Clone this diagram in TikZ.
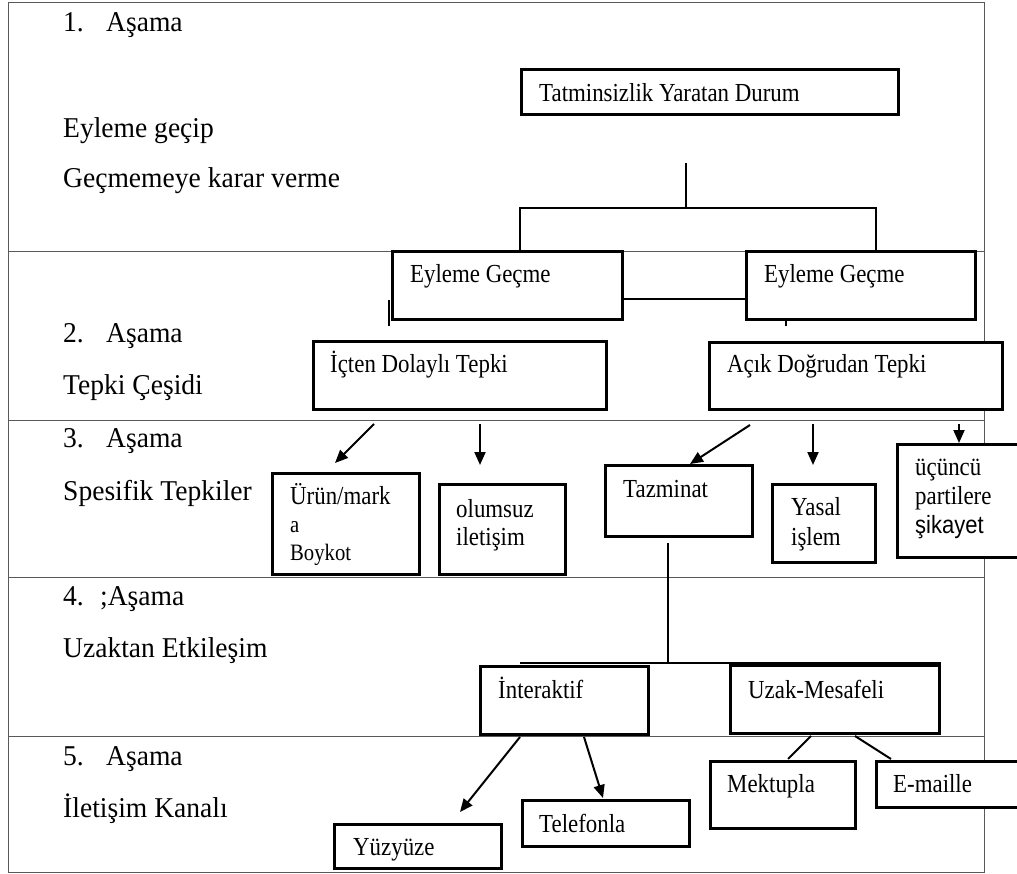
\documentclass[tikz,border=0pt]{standalone}
\usepackage{fontspec}
\setmainfont{Liberation Serif}
\newfontfamily\asamafont[FakeStretch=0.96]{Liberation Serif}
\newfontfamily\kutufont[FakeStretch=0.88]{Liberation Serif}
\newfontfamily\kutusans[FakeStretch=0.88]{Liberation Sans}
\usetikzlibrary{arrows.meta,positioning}

\def\frameLeft{8}
\def\frameRight{984}

\begin{document}
\begin{tikzpicture}[x=1pt, y=-1pt,
    cerceve/.style={draw=black!65, line width=1pt},
    kutu/.style={draw, line width=3pt, fill=white, anchor=north west, inner sep=0pt},
    yazi/.style={anchor=base west, inner sep=0pt, align=left,
        font=\kutufont\fontsize{26}{28}\selectfont},
    asama/.style={anchor=base west, inner sep=0pt,
        font=\asamafont\fontsize{28.7}{30}\selectfont},
    bag/.style={line width=2pt},
    ok/.style={line width=2pt, -{Triangle[length=13pt, width=11pt]}}
    ]
    \clip (0,0) rectangle (1017,874);

    %% cerceve ve asama satirlari
    \draw [cerceve] (\frameLeft,3) rectangle (\frameRight,872);
    \foreach \y in {252,420,577,736} {
        \draw [cerceve] (\frameLeft,\y) -- (\frameRight,\y);
    }

    \node [asama] (a1) at (63,32) {\makebox[43pt][l]{1.}Aşama};
    \node [asama] (a1b) at (63,138) {Eyleme geçip};
    \node [asama] (a1c) at (63,188) {Geçmemeye karar verme};
    \node [asama] (a2) at (63,343) {\makebox[43pt][l]{2.}Aşama};
    \node [asama] (a2b) at (63,395) {Tepki Çeşidi};
    \node [asama] (a3) at (63,447) {\makebox[43pt][l]{3.}Aşama};
    \node [asama] (a3b) at (63,500) {Spesifik Tepkiler};
    \node [asama] (a4) at (63,605) {\makebox[37pt][l]{4.};Aşama};
    \node [asama] (a4b) at (63,657) {Uzaktan Etkileşim};
    \node [asama] (a5) at (63,765) {\makebox[43pt][l]{5.}Aşama};
    \node [asama] (a5b) at (63,817) {İletişim Kanalı};

    %% kutular
    \node [kutu, minimum width=377pt, minimum height=45pt] (durum) at (520,68) {};
    \node [kutu, minimum width=230pt, minimum height=68pt] (eylem1) at (391,250) {};
    \node [kutu, minimum width=229pt, minimum height=68pt] (eylem2) at (745,250) {};
    \node [kutu, minimum width=293pt, minimum height=68pt] (ictem) at (312,340) {};
    \node [kutu, minimum width=293pt, minimum height=67pt] (acik) at (708,341) {};
    \node [kutu, minimum width=147pt, minimum height=101pt] (boykot) at (271,472) {};
    \node [kutu, minimum width=126pt, minimum height=90pt] (olumsuz) at (438,483) {};
    \node [kutu, minimum width=147pt, minimum height=71pt] (tazminat) at (604,464) {};
    \node [kutu, minimum width=103pt, minimum height=78pt] (yasal) at (771,483) {};
    \node [kutu, minimum width=140pt, minimum height=113pt] (ucuncu) at (896,443) {};
    \node [kutu, minimum width=168pt, minimum height=68pt] (interaktif) at (479,665) {};
    \node [kutu, minimum width=209pt, minimum height=68pt] (uzak) at (729,664) {};
    \node [kutu, minimum width=167pt, minimum height=44pt] (yuzyuze) at (333,823) {};
    \node [kutu, minimum width=167pt, minimum height=46pt] (telefon) at (521,799) {};
    \node [kutu, minimum width=145pt, minimum height=67pt] (mektup) at (709,760) {};
    \node [kutu, minimum width=150pt, minimum height=46pt] (email) at (875,760) {};

    %% kutu yazilari (cok satirlilarda taban cizgisi son satir)
    \node [yazi] (durum-y) at ([shift={(19,34)}]durum.north west) {Tatminsizlik Yaratan Durum};
    \node [yazi] (eylem1-y) at ([shift={(19,33)}]eylem1.north west) {Eyleme Geçme};
    \node [yazi] (eylem2-y) at ([shift={(19,33)}]eylem2.north west) {Eyleme Geçme};
    \node [yazi] (ictem-y) at ([shift={(18,33)}]ictem.north west) {İçten Dolaylı Tepki};
    \node [yazi] (acik-y) at ([shift={(19,32)}]acik.north west) {Açık Doğrudan Tepki};
    \node [yazi] (boykot-y) at ([shift={(19,88)}]boykot.north west)
        {Ürün/mark\\\fontsize{23.5}{27}\selectfont a\\\fontsize{23.5}{27}\selectfont Boykot};
    \node [yazi] (olumsuz-y) at ([shift={(18,62)}]olumsuz.north west) {olumsuz\\iletişim};
    \node [yazi] (tazminat-y) at ([shift={(19,33)}]tazminat.north west) {Tazminat};
    \node [yazi] (yasal-y) at ([shift={(20,62)}]yasal.north west) {Yasal\\[2pt]işlem};
    \node [yazi] (ucuncu-y) at ([shift={(19,90)}]ucuncu.north west)
        {üçüncü\\[1pt]partilere\\[1pt]\kutusans\fontsize{25}{28}\selectfont şikayet};
    \node [yazi] (interaktif-y) at ([shift={(19,33)}]interaktif.north west) {İnteraktif};
    \node [yazi] (uzak-y) at ([shift={(19,34)}]uzak.north west) {Uzak-Mesafeli};
    \node [yazi] (yuzyuze-y) at ([shift={(20,32)}]yuzyuze.north west) {Yüzyüze};
    \node [yazi] (telefon-y) at ([shift={(18,33)}]telefon.north west) {Telefonla};
    \node [yazi] (mektup-y) at ([shift={(18,32)}]mektup.north west) {Mektupla};
    \node [yazi] (email-y) at ([shift={(18,32)}]email.north west) {E-maille};

    %% 1. asama -> 2. asama
    \coordinate (karar) at (686,163);
    \coordinate (catal) at (686,208);
    \coordinate (catal-sol) at (520,208);
    \coordinate (catal-sag) at (876,208);
    \coordinate (bag-y) at (0,299);
    \draw [bag] (karar) -- (catal);
    \draw [bag] (eylem1.north -| catal-sol) -- (catal-sol) -- (catal-sag) -- (eylem2.north -| catal-sag);
    \draw [bag] (eylem1.east |- bag-y) -- (eylem2.west |- bag-y);
    \draw [bag] ([shift={(-2,-21)}]eylem1.south west) -- ++(0,26);
    \draw [bag] ([shift={(41,0)}]eylem2.south west) -- ++(0,5);

    %% 2. asama -> 3. asama
    \draw [ok] ([shift={(62,13)}]ictem.south west) -- ([shift={(64,-9)}]boykot.north west);
    \draw [ok] ([shift={(168,13)}]ictem.south west) -- ([shift={(42,-18)}]olumsuz.north west);
    \draw [ok] ([shift={(42,14)}]acik.south west) -- ([shift={(86,0)}]tazminat.north west);
    \draw [ok] ([shift={(105,13)}]acik.south west) -- ([shift={(42,-18)}]yasal.north west);
    \draw [ok] ([shift={(251,13)}]acik.south west) -- ([shift={(63,0)}]ucuncu.north west);

    %% 3. asama -> 4. asama
    \coordinate (catal2) at (668,663);
    \draw [bag] ([shift={(64,5)}]tazminat.south west) -- (catal2);
    \draw [bag] ([shift={(41,-2)}]interaktif.north west) -- ([shift={(0,-1)}]uzak.north east);

    %% 4. asama -> 5. asama
    \draw [ok] ([shift={(41,1)}]interaktif.south west) -- ([shift={(127,-11)}]yuzyuze.north west);
    \draw [ok] ([shift={(105,1)}]interaktif.south west) -- ([shift={(82,-1)}]telefon.north west);
    \draw [bag] ([shift={(82,1)}]uzak.south west) -- ([shift={(79,-1)}]mektup.north west);
    \draw [bag] ([shift={(126,1)}]uzak.south west) -- ([shift={(16,-1)}]email.north west);
\end{tikzpicture}
\end{document}
